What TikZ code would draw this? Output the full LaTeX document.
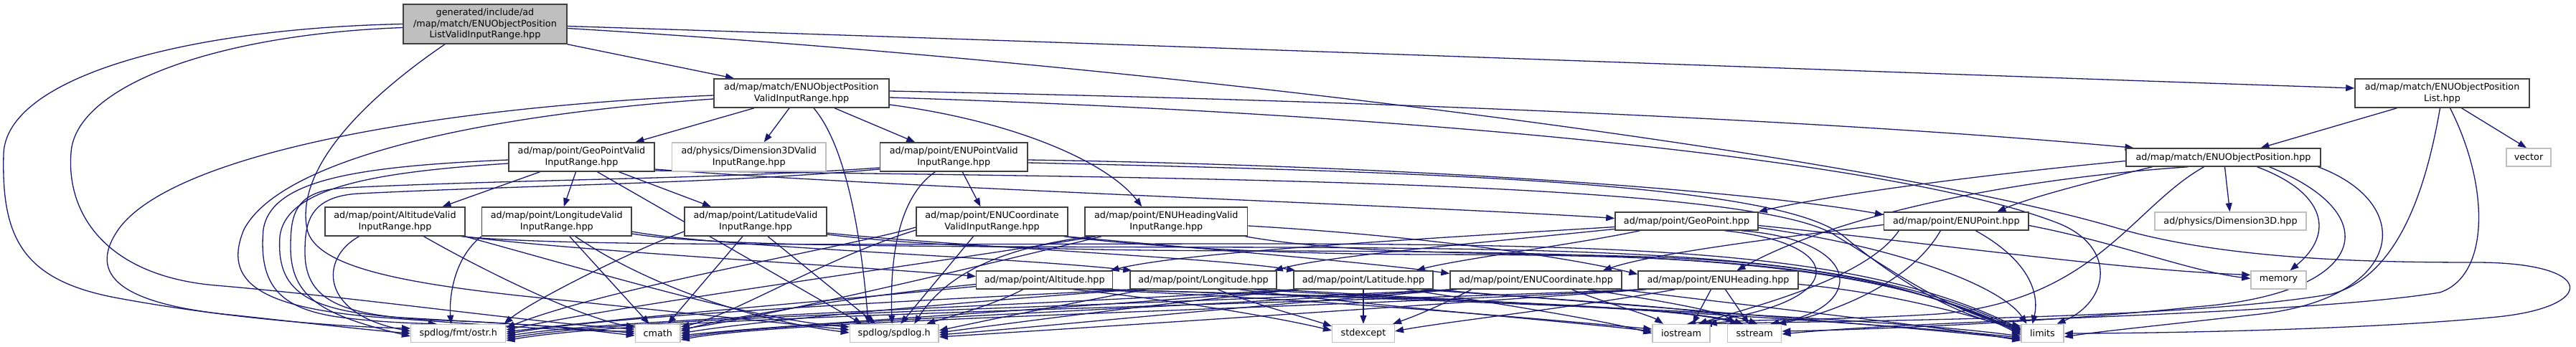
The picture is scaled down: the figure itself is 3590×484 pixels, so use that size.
\documentclass[tikz,border=0pt]{standalone}
\usepackage{fontspec}
\setmainfont{DejaVu Sans}
\usetikzlibrary{arrows.meta}
\definecolor{edgec}{HTML}{191970}
\definecolor{greyb}{HTML}{BFBFBF}
\definecolor{nodeb}{HTML}{404040}
\pgfdeclarelayer{bg}
\pgfsetlayers{bg,main}
\tikzset{
  box/.style={draw=nodeb, line width=1.5pt, fill=white, inner sep=0pt, align=center,
    font=\fontsize{12.75pt}{15.5pt}\selectfont, text=black},
  gbox/.style={box, draw=greyb},
  e/.style={draw=edgec, line width=1.3pt, -{Triangle[length=12pt,width=9pt]}}
}
\begin{document}
\begin{tikzpicture}[x=1pt,y=-1pt]
\path[use as bounding box] (0,0) rectangle (3590,484);
% nodes
\node[box, fill=greyb, minimum width=228pt, minimum height=55pt] (root) at (676,33.5) {generated/include/ad\\/map/match/ENUObjectPosition\\ListValidInputRange.hpp};
\node[box, minimum width=244pt, minimum height=40pt] (eopv) at (1117,130) {ad/map/match/ENUObjectPosition\\ValidInputRange.hpp};
\node[box, minimum width=243pt, minimum height=40pt] (eopl) at (3403.5,130) {ad/map/match/ENUObjectPosition\\List.hpp};
\node[gbox, minimum width=62pt, minimum height=25pt] (vec) at (3524,219.5) {vector};
\node[box, minimum width=271pt, minimum height=25pt] (eop) at (3098.5,219.5) {ad/map/match/ENUObjectPosition.hpp};
\node[box, minimum width=203pt, minimum height=40pt] (gpv) at (810.5,219) {ad/map/point/GeoPointValid\\InputRange.hpp};
\node[gbox, minimum width=214.5pt, minimum height=40pt] (d3v) at (1043.75,219) {ad/physics/Dimension3DValid\\InputRange.hpp};
\node[box, minimum width=205.5pt, minimum height=40pt] (epv) at (1329.25,219) {ad/map/point/ENUPointValid\\InputRange.hpp};
\node[box, minimum width=195pt, minimum height=40pt] (av) at (550.5,309) {ad/map/point/AltitudeValid\\InputRange.hpp};
\node[box, minimum width=208.4pt, minimum height=40pt] (lov) at (775.8,309) {ad/map/point/LongitudeValid\\InputRange.hpp};
\node[box, minimum width=198pt, minimum height=40pt] (lav) at (1053,309) {ad/map/point/LatitudeValid\\InputRange.hpp};
\node[box, minimum width=211pt, minimum height=40pt] (ecv) at (1382.5,309) {ad/map/point/ENUCoordinate\\ValidInputRange.hpp};
\node[box, minimum width=226.6pt, minimum height=40pt] (ehv) at (1625.3,309) {ad/map/point/ENUHeadingValid\\InputRange.hpp};
\node[box, minimum width=199pt, minimum height=25pt] (geop) at (2350.5,308.5) {ad/map/point/GeoPoint.hpp};
\node[box, minimum width=201.3pt, minimum height=25pt] (enup) at (2726.3,308.5) {ad/map/point/ENUPoint.hpp};
\node[gbox, minimum width=211pt, minimum height=25pt] (d3d) at (3108.5,308.5) {ad/physics/Dimension3D.hpp};
\node[box, minimum width=190pt, minimum height=25pt] (alt) at (1455.7,390.5) {ad/map/point/Altitude.hpp};
\node[box, minimum width=204pt, minimum height=25pt] (lon) at (1677,390.5) {ad/map/point/Longitude.hpp};
\node[box, minimum width=194pt, minimum height=25pt] (lat) at (1900,390.5) {ad/map/point/Latitude.hpp};
\node[box, minimum width=239pt, minimum height=25pt] (eco) at (2140.5,390.5) {ad/map/point/ENUCoordinate.hpp};
\node[box, minimum width=223pt, minimum height=25pt] (ehd) at (2394.5,390.5) {ad/map/point/ENUHeading.hpp};
\node[gbox, minimum width=77pt, minimum height=25pt] (mem) at (3175.5,390.5) {memory};
\node[gbox, minimum width=132pt, minimum height=25pt] (ostr) at (638.7,465) {spdlog/fmt/ostr.h};
\node[gbox, minimum width=62.5pt, minimum height=25pt] (cmath) at (916.75,465) {cmath};
\node[gbox, minimum width=123.6pt, minimum height=25pt] (spd) at (1246.2,465) {spdlog/spdlog.h};
\node[gbox, minimum width=86.6pt, minimum height=25pt] (stdx) at (1900,465) {stdexcept};
\node[gbox, minimum width=80pt, minimum height=25pt] (ios) at (2343,465) {iostream};
\node[gbox, minimum width=75pt, minimum height=25pt] (sst) at (2445.2,465) {sstream};
\node[gbox, minimum width=59pt, minimum height=25pt] (lim) at (2846.5,465) {limits};

\begin{pgfonlayer}{bg}
\fill[white] (0,0) rectangle (3590,484);
% root
\draw[e] (root.west) .. controls (250,40) and (8,110) .. (5,215) .. controls (2,330) and (30,390) .. (160,415) .. controls (320,445) and (480,456) .. ([yshift=7pt]ostr.west);
\draw[e] ([yshift=-5pt]root.west) .. controls (300,48) and (105,120) .. (99,213) .. controls (92,300) and (150,385) .. (300,398) .. controls (500,415) and (760,452) .. ([yshift=6pt]cmath.west);
\draw[e] ([xshift=-56pt]root.south) .. controls (520,130) and (410,230) .. (428,320) .. controls (440,372) and (560,394) .. (720,412) .. controls (950,436) and (1100,452) .. ([yshift=5pt]spd.west);
\draw[e] (root.south east) -- ([xshift=-94pt]eopv.north);
\draw[e] ([yshift=-3pt]root.east) .. controls (1600,62) and (2600,100) .. ([yshift=7pt]eopl.west);
\draw[e] ([yshift=-6pt]root.east) .. controls (1600,88) and (2600,215) .. (2950,318) .. controls (3100,362) and (3300,366) .. (3450,366) .. controls (3620,366) and (3620,428) .. (3480,442) .. controls (3300,460) and (3000,465) .. (lim.east);
% eopv
\draw[e] ([xshift=-66pt]eopv.south) -- ([xshift=75pt]gpv.north);
\draw[e] ([xshift=-17pt]eopv.south) -- ([xshift=21pt]d3v.north);
\draw[e] ([xshift=17pt]eopv.south) .. controls (1180,205) and (1200,330) .. ([xshift=-36pt]spd.north);
\draw[e] ([xshift=46pt]eopv.south) -- ([xshift=-54pt]epv.north);
\draw[e] ([yshift=-16pt]eopv.east) .. controls (1420,170) and (1545,228) .. ([xshift=-34pt]ehv.north);
\draw[e] ([yshift=3pt]eopv.east) .. controls (2000,142) and (2600,172) .. ([xshift=-125pt]eop.north);
\draw[e] ([yshift=-6pt]eopv.east) .. controls (2000,160) and (2650,225) .. (2870,312) .. controls (2950,345) and (2940,420) .. ([xshift=20pt]lim.north);
\draw[e] ([yshift=-3pt]eopv.west) .. controls (600,150) and (240,215) .. (165,320) .. controls (120,385) and (170,425) .. (330,440) .. controls (440,452) and (520,461) .. (ostr.west);
\draw[e] ([yshift=-8pt]eopv.west) .. controls (650,162) and (390,225) .. (340,320) .. controls (310,392) and (360,428) .. (520,442) .. controls (700,455) and (800,462) .. ([yshift=3pt]cmath.west);
% gpv
\draw[e] ([xshift=-58pt]gpv.south) -- ([xshift=66pt]av.north);
\draw[e] ([xshift=-8pt]gpv.south) -- ([xshift=10pt]lov.north);
\draw[e] ([xshift=52pt]gpv.south) -- ([xshift=-62pt]lav.north);
\draw[e] ([xshift=22pt]gpv.south) -- ([xshift=-45pt]spd.north);
\draw[e] ([yshift=-17pt]gpv.east) .. controls (1250,262) and (2000,288) .. ([yshift=4pt]geop.west);
\draw[e] ([yshift=-19pt]gpv.east) .. controls (1600,248) and (2450,250) .. (2560,330) .. controls (2620,365) and (2720,440) .. ([yshift=10pt]lim.west);
\draw[e] ([yshift=-4pt]gpv.west) .. controls (500,232) and (378,250) .. (367,320) .. controls (360,400) and (392,430) .. (470,442) .. controls (530,450) and (585,451) .. ([xshift=-30pt]ostr.north);
\draw[e] ([yshift=-9pt]gpv.west) .. controls (520,240) and (398,262) .. (390,330) .. controls (385,405) and (425,434) .. (560,443) .. controls (720,452) and (820,458) .. (cmath.west);
% epv
\draw[e] ([xshift=12pt]epv.south) -- ([xshift=-16pt]ecv.north);
\draw[e] ([xshift=-26pt]epv.south) .. controls (1252,275) and (1240,360) .. ([xshift=-3pt]spd.north);
\draw[e] ([yshift=-4pt]epv.east) .. controls (2000,232) and (2450,268) .. ([yshift=9pt]enup.west);
\draw[e] ([yshift=-8pt]epv.east) .. controls (2000,240) and (2480,255) .. (2570,330) .. controls (2630,380) and (2720,442) .. ([yshift=8pt]lim.west);
\draw[e] ([yshift=-15pt]epv.west) .. controls (1000,250) and (720,250) .. (480,262) .. controls (410,266) and (405,300) .. (405,345) .. controls (405,415) and (450,440) .. ([yshift=-4pt]ostr.west);
\draw[e] ([yshift=-17pt]epv.west) .. controls (1000,256) and (740,258) .. (500,270) .. controls (430,274) and (425,312) .. (425,352) .. controls (425,422) and (480,442) .. (620,447) .. controls (760,452) and (830,462) .. ([yshift=-3pt]cmath.west);
% av
\draw[e] ([xshift=-3pt]av.south east) .. controls (800,350) and (1200,372) .. ([yshift=5pt]alt.west);
\draw[e] ([xshift=-50pt]av.south) .. controls (445,360) and (445,438) .. ([yshift=3pt]ostr.west);
\draw[e] ([xshift=40pt]av.south) .. controls (700,392) and (820,446) .. ([yshift=9pt]cmath.west);
\draw[e] ([xshift=-1pt]av.south east) .. controls (850,385) and (1050,446) .. ([yshift=9pt]spd.west);
\draw[e] ([xshift=-6pt]av.south east) .. controls (800,345) and (1200,340) .. (1800,340) .. controls (2300,342) and (2600,352) .. ([yshift=6pt]lim.west);
% lov
\draw[e] ([yshift=-14pt]lov.east) .. controls (1000,345) and (1400,358) .. ([xshift=3pt]lon.north west);
\draw[e] (lov.south west) .. controls (630,362) and (626,420) .. ([xshift=-10pt]ostr.north);
\draw[e] ([xshift=18pt]lov.south) -- ([xshift=-12pt]cmath.north);
\draw[e] ([xshift=26pt]lov.south) .. controls (905,400) and (1050,447) .. ([yshift=1pt]spd.west);
\draw[e] ([yshift=-17pt]lov.east) .. controls (1000,345) and (1300,344) .. (1800,345) .. controls (2300,348) and (2600,356) .. ([yshift=4pt]lim.west);
% lav
\draw[e] ([yshift=-16pt]lav.east) .. controls (1350,345) and (1700,360) .. ([xshift=3pt]lat.north west);
\draw[e] ([yshift=-14pt]lav.west) .. controls (880,350) and (740,420) .. ([xshift=-3pt]ostr.north east);
\draw[e] ([xshift=-18pt]lav.south) -- ([xshift=14pt]cmath.north);
\draw[e] ([xshift=17pt]lav.south) -- ([xshift=-26pt]spd.north);
\draw[e] ([yshift=-18pt]lav.east) .. controls (1300,345) and (1500,350) .. (1800,350) .. controls (2300,352) and (2600,360) .. ([yshift=2pt]lim.west);
% ecv
\draw[e] ([xshift=-3pt]ecv.south east) .. controls (1650,345) and (1900,365) .. ([yshift=9pt]eco.west);
\draw[e] ([xshift=-26pt]ecv.south) -- ([xshift=9pt]spd.north);
\draw[e] ([yshift=-8pt]ecv.west) .. controls (1180,345) and (850,400) .. ([yshift=8pt]ostr.east);
\draw[e] ([yshift=-12pt]ecv.west) .. controls (1150,360) and (1020,440) .. ([yshift=9pt]cmath.east);
\draw[e] ([xshift=-6pt]ecv.south east) .. controls (1600,345) and (1800,355) .. (2000,355) .. controls (2350,356) and (2610,364) .. (lim.west);
% ehv
\draw[e] ([yshift=-6pt]ehv.east) .. controls (2000,330) and (2200,362) .. ([yshift=8pt]ehd.west);
\draw[e] ([xshift=-105pt]ehv.south) .. controls (1400,345) and (1320,380) .. ([xshift=28pt]spd.north);
\draw[e] ([xshift=-98pt]ehv.south) .. controls (1350,360) and (900,420) .. ([yshift=5pt]ostr.east);
\draw[e] ([xshift=-90pt]ehv.south) .. controls (1330,380) and (1050,445) .. ([yshift=6pt]cmath.east);
\draw[e] ([xshift=-4pt]ehv.south east) .. controls (1850,350) and (2000,352) .. (2150,355) .. controls (2400,358) and (2620,368) .. ([yshift=-2pt]lim.west);
% geop
\draw[e] ([yshift=-8pt]geop.west) .. controls (1950,335) and (1650,352) .. ([xshift=-4pt]alt.north east);
\draw[e] ([yshift=-11pt]geop.west) .. controls (2050,340) and (1850,357) .. ([xshift=-4pt]lon.north east);
\draw[e] ([xshift=-65pt]geop.south) .. controls (2200,340) and (2030,362) .. ([xshift=-24pt]lat.north east);
\draw[e] ([yshift=-6pt]geop.east) .. controls (2700,340) and (2950,376) .. ([yshift=7pt]mem.west);
\draw[e] ([xshift=53pt]geop.south) .. controls (2580,340) and (2580,425) .. ([xshift=8pt]ios.north);
\draw[e] ([xshift=76pt]geop.south) .. controls (2600,335) and (2600,430) .. ([xshift=22pt]sst.north);
\draw[e] ([yshift=-9pt]geop.east) .. controls (2650,345) and (2790,400) .. ([xshift=-22pt]lim.north);
% enup
\draw[e] ([yshift=-5pt]enup.west) .. controls (2450,335) and (2300,355) .. ([xshift=-27pt]eco.north east);
\draw[e] ([yshift=-6pt]enup.east) .. controls (2950,338) and (3050,378) .. ([yshift=2pt]mem.west);
\draw[e] ([xshift=-80pt]enup.south) .. controls (2600,390) and (2440,428) .. ([xshift=24pt]ios.north);
\draw[e] ([xshift=-22pt]enup.south) .. controls (2660,400) and (2540,440) .. ([xshift=32pt]sst.north);
\draw[e] ([xshift=27pt]enup.south) .. controls (2840,370) and (2840,420) .. ([xshift=-14pt]lim.north);
% eop
\draw[e] ([yshift=-5pt]eop.west) .. controls (2750,245) and (2550,272) .. (geop.north east);
\draw[e] ([xshift=-99pt]eop.south) .. controls (2920,252) and (2830,275) .. ([xshift=57pt]enup.north);
\draw[e] ([xshift=-49pt]eop.south) .. controls (2800,250) and (2560,300) .. ([xshift=26pt]ehd.north);
\draw[e] ([xshift=2pt]eop.south) -- ([xshift=-1pt]d3d.north);
\draw[e] ([xshift=47pt]eop.south) .. controls (3240,268) and (3255,325) .. ([xshift=16pt]mem.north);
\draw[e] ([xshift=-27pt]eop.south) .. controls (2970,290) and (2920,420) .. (2700,438) .. controls (2560,447) and (2430,445) .. ([xshift=-3pt]ios.north east);
\draw[e] ([xshift=64pt]eop.south) .. controls (3330,300) and (3300,410) .. (3060,428) .. controls (2850,450) and (2600,460) .. ([yshift=3pt]sst.east);
\draw[e] ([xshift=132pt]eop.south) .. controls (3370,285) and (3350,415) .. (3150,438) .. controls (3000,455) and (2920,463) .. ([yshift=-5pt]lim.east);
% eopl
\draw[e] ([xshift=-63pt]eopl.south) -- ([xshift=52pt]eop.north);
\draw[e] ([xshift=27pt]eopl.south) -- ([xshift=-3pt]vec.north);
\draw[e] ([xshift=-3pt]eopl.south) .. controls (3380,270) and (3340,385) .. (3250,410) .. controls (3050,445) and (2600,447) .. ([xshift=-10pt]ios.north east);
\draw[e] ([xshift=11pt]eopl.south) .. controls (3470,260) and (3470,385) .. (3400,408) .. controls (3200,440) and (2700,445) .. ([yshift=-1pt]sst.east);
% alt
\draw[e] ([xshift=-30pt]alt.south) .. controls (1385,425) and (1330,440) .. ([xshift=45pt]spd.north);
\draw[e] ([yshift=-6pt]alt.west) .. controls (1200,412) and (1000,445) .. ([yshift=3pt]cmath.east);
\draw[e] ([yshift=-9pt]alt.west) .. controls (1150,420) and (850,445) .. ([yshift=2pt]ostr.east);
\draw[e] ([xshift=40pt]alt.south) .. controls (1650,420) and (1790,445) .. ([yshift=4pt]stdx.west);
\draw[e] ([xshift=60pt]alt.south) .. controls (1850,418) and (2150,445) .. ([yshift=6pt]ios.west);
\draw[e] ([xshift=75pt]alt.south) .. controls (1950,415) and (2330,425) .. ([xshift=-22pt]sst.north);
\draw[e] ([xshift=-4pt]alt.south east) .. controls (2000,418) and (2600,440) .. ([yshift=-4pt]lim.west);
% lon
\draw[e] ([xshift=-80pt]lon.south) .. controls (1480,425) and (1360,450) .. ([yshift=4pt]spd.east);
\draw[e] ([xshift=-92pt]lon.south) .. controls (1350,420) and (1050,448) .. (cmath.east);
\draw[e] ([xshift=-98pt]lon.south) .. controls (1300,418) and (850,440) .. ([yshift=-1pt]ostr.east);
\draw[e] ([xshift=20pt]lon.south) .. controls (1750,425) and (1810,440) .. ([yshift=10pt]stdx.west);
\draw[e] ([xshift=50pt]lon.south) .. controls (1900,425) and (2200,450) .. ([yshift=3pt]ios.west);
\draw[e] ([xshift=70pt]lon.south) .. controls (2000,420) and (2350,428) .. ([xshift=-16pt]sst.north);
\draw[e] ([xshift=-3pt]lon.south east) .. controls (2100,422) and (2600,448) .. ([yshift=-6pt]lim.west);
% lat
\draw[e] (lat.south) -- (stdx.north);
\draw[e] ([xshift=-90pt]lat.south) .. controls (1600,425) and (1400,452) .. ([yshift=1pt]spd.east);
\draw[e] ([xshift=-94pt]lat.south) .. controls (1500,430) and (1100,452) .. ([yshift=-3pt]cmath.east);
\draw[e] ([xshift=-96pt]lat.south) .. controls (1400,428) and (850,445) .. ([yshift=-4pt]ostr.east);
\draw[e] ([xshift=60pt]lat.south) .. controls (2100,425) and (2240,448) .. (ios.west);
\draw[e] ([xshift=80pt]lat.south) .. controls (2200,420) and (2390,430) .. ([xshift=4pt]sst.north);
\draw[e] ([xshift=-3pt]lat.south east) .. controls (2300,428) and (2650,455) .. ([yshift=-8pt]lim.west);
% eco
\draw[e] ([xshift=-90pt]eco.south) .. controls (2010,425) and (1975,440) .. ([xshift=-3pt]stdx.north east);
\draw[e] ([xshift=-110pt]eco.south) .. controls (1700,430) and (1450,456) .. ([yshift=-2pt]spd.east);
\draw[e] ([xshift=-114pt]eco.south) .. controls (1600,432) and (1100,448) .. ([yshift=-6pt]cmath.east);
\draw[e] ([xshift=-118pt]eco.south) .. controls (1500,430) and (900,440) .. ([yshift=-7pt]ostr.east);
\draw[e] ([xshift=50pt]eco.south) .. controls (2230,420) and (2300,440) .. ([xshift=-25pt]ios.north);
\draw[e] ([xshift=72pt]eco.south) .. controls (2320,420) and (2400,435) .. ([xshift=-28pt]sst.north);
\draw[e] ([xshift=-3pt]eco.south east) .. controls (2450,428) and (2700,455) .. ([yshift=-10pt]lim.west);
% ehd
\draw[e] ([xshift=-10pt]ehd.south) -- ([xshift=16pt]ios.north);
\draw[e] ([xshift=10pt]ehd.south) -- ([xshift=-8pt]sst.north);
\draw[e] ([xshift=-60pt]ehd.south) .. controls (2200,428) and (2020,448) .. ([yshift=3pt]stdx.east);
\draw[e] ([xshift=-100pt]ehd.south) .. controls (1900,432) and (1500,458) .. ([yshift=-5pt]spd.east);
\draw[e] ([xshift=-104pt]ehd.south) .. controls (1800,432) and (1100,445) .. ([yshift=-9pt]cmath.east);
\draw[e] ([xshift=-108pt]ehd.south) .. controls (1700,428) and (900,440) .. ([yshift=-10pt]ostr.east);
\draw[e] ([yshift=-6pt]ehd.east) .. controls (2650,410) and (2760,445) .. ([yshift=5pt]lim.west);
\end{pgfonlayer}
\end{tikzpicture}
\end{document}
